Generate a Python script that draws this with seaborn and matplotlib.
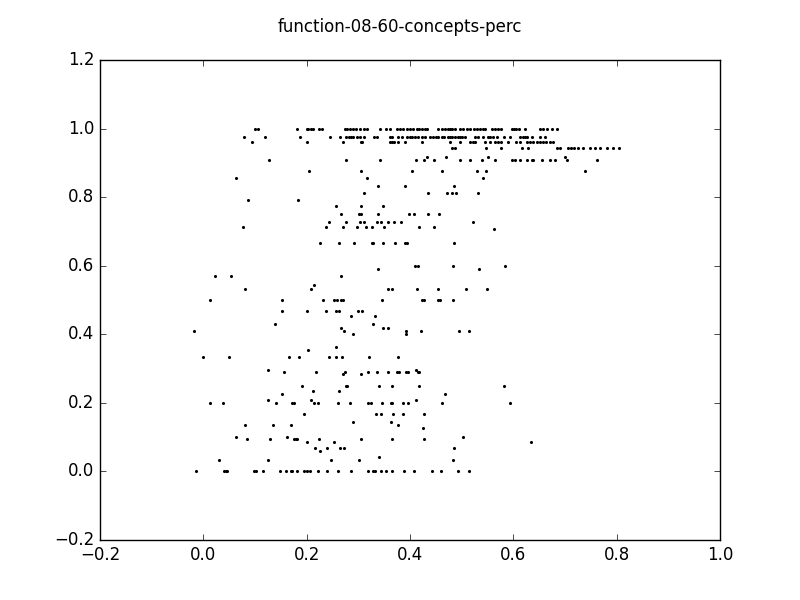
import pandas as pd
import numpy as np
from matplotlib import pyplot as plt
import seaborn as sns

# values, grouped by the y level they sit on
levels = [1.0, 0.975, 0.96, 0.944, 0.918, 0.909, 0.875, 0.857, 0.833, 0.813,
          0.792, 0.775, 0.75, 0.727, 0.714, 0.706, 0.667, 0.6, 0.589, 0.571,
          0.545, 0.533, 0.5, 0.467, 0.453, 0.43, 0.419, 0.41, 0.4, 0.363,
          0.355, 0.333, 0.296, 0.289, 0.283, 0.25, 0.236, 0.226, 0.208, 0.2,
          0.167, 0.143, 0.134, 0.126, 0.1, 0.096, 0.085, 0.067, 0.06, 0.041,
          0.033, 0.0]

xs_by_level = [
    [0.1, 0.105, 0.182, 0.2, 0.203, 0.208, 0.213, 0.223, 0.229, 0.274, 0.279, 0.284,
     0.289, 0.296, 0.303, 0.311, 0.317, 0.342, 0.354, 0.361, 0.374, 0.381, 0.387,
     0.394, 0.4, 0.406, 0.413, 0.418, 0.423, 0.429, 0.432, 0.455, 0.461, 0.468,
     0.474, 0.477, 0.482, 0.488, 0.497, 0.503, 0.51, 0.516, 0.523, 0.529, 0.535,
     0.542, 0.545, 0.558, 0.565, 0.571, 0.577, 0.597, 0.602, 0.606, 0.611, 0.623,
     0.652, 0.658, 0.665, 0.674, 0.684],
    [0.078, 0.119, 0.187, 0.245, 0.264, 0.277, 0.281, 0.286, 0.29, 0.297, 0.303,
     0.311, 0.331, 0.337, 0.361, 0.365, 0.376, 0.384, 0.394, 0.4, 0.404, 0.41,
     0.416, 0.423, 0.429, 0.439, 0.445, 0.45, 0.455, 0.461, 0.466, 0.473, 0.477,
     0.482, 0.487, 0.492, 0.497, 0.5, 0.506, 0.526, 0.532, 0.542, 0.55, 0.555,
     0.561, 0.568, 0.581, 0.594, 0.613, 0.618, 0.623, 0.627, 0.636, 0.652, 0.661],
    [0.094, 0.2, 0.271, 0.305, 0.308, 0.361, 0.365, 0.369, 0.376, 0.39, 0.423,
     0.477, 0.497, 0.516, 0.521, 0.526, 0.545, 0.555, 0.565, 0.571, 0.577, 0.59,
     0.606, 0.613, 0.626, 0.632, 0.639, 0.645, 0.652, 0.658, 0.663, 0.671, 0.677],
    [0.481, 0.487, 0.547, 0.577, 0.616, 0.629, 0.684, 0.69, 0.706, 0.711, 0.718,
     0.726, 0.735, 0.748, 0.758, 0.768, 0.781, 0.792, 0.805],
    [0.432, 0.469, 0.55, 0.7],
    [0.127, 0.276, 0.341, 0.411, 0.428, 0.447, 0.497, 0.516, 0.54, 0.565, 0.597,
     0.603, 0.613, 0.626, 0.636, 0.639, 0.655, 0.671, 0.681, 0.703, 0.761],
    [0.205, 0.306, 0.404, 0.462, 0.529, 0.548, 0.739],
    [0.063, 0.316, 0.541],
    [0.338, 0.39, 0.485],
    [0.31, 0.435, 0.471, 0.481, 0.489, 0.532],
    [0.087, 0.183],
    [0.257, 0.305, 0.348],
    [0.266, 0.301, 0.305, 0.338, 0.398, 0.408, 0.435, 0.456],
    [0.244, 0.276, 0.303, 0.311, 0.336, 0.344, 0.357, 0.369, 0.382, 0.522],
    [0.076, 0.237, 0.27, 0.298, 0.314, 0.327, 0.35, 0.418, 0.447],
    [0.563],
    [0.225, 0.263, 0.291, 0.327, 0.329, 0.348, 0.37, 0.39, 0.394, 0.486],
    [0.41, 0.415, 0.484, 0.584],
    [0.338, 0.534],
    [0.023, 0.054, 0.266],
    [0.215],
    [0.08, 0.209, 0.358, 0.365, 0.413, 0.455, 0.508, 0.549],
    [0.013, 0.152, 0.232, 0.253, 0.259, 0.266, 0.271, 0.345, 0.423, 0.428, 0.455,
     0.458, 0.483],
    [0.152, 0.2, 0.237, 0.256, 0.263, 0.299, 0.308],
    [0.286, 0.332],
    [0.138, 0.329],
    [0.266, 0.347, 0.357],
    [-0.019, 0.272, 0.392, 0.421, 0.494, 0.514],
    [0.289, 0.392],
    [0.257],
    [0.203],
    [0.0, 0.05, 0.166, 0.185, 0.244, 0.257, 0.269, 0.321, 0.377],
    [0.126, 0.412],
    [0.156, 0.218, 0.274, 0.319, 0.337, 0.358, 0.375, 0.379, 0.392, 0.396, 0.415,
     0.418],
    [0.271, 0.305],
    [0.19, 0.277, 0.279, 0.34, 0.366, 0.418, 0.582],
    [0.212, 0.263],
    [0.152, 0.468],
    [0.126, 0.209, 0.411],
    [0.013, 0.039, 0.141, 0.171, 0.176, 0.215, 0.221, 0.261, 0.284, 0.319, 0.324,
     0.346, 0.363, 0.365, 0.387, 0.397, 0.462, 0.594],
    [0.195, 0.334, 0.343, 0.368, 0.386, 0.428],
    [0.289, 0.363],
    [0.081, 0.135, 0.17, 0.376],
    [0.426],
    [0.063, 0.161, 0.503],
    [0.084, 0.129, 0.176, 0.179, 0.181, 0.223, 0.305, 0.366, 0.428],
    [0.201, 0.253, 0.635],
    [0.216, 0.239, 0.265, 0.273, 0.486],
    [0.226],
    [0.34],
    [0.031, 0.126, 0.248, 0.302, 0.483],
    [-0.014, 0.04, 0.043, 0.046, 0.098, 0.102, 0.116, 0.148, 0.16, 0.17, 0.172,
     0.182, 0.195, 0.201, 0.206, 0.221, 0.24, 0.261, 0.286, 0.318, 0.329, 0.332,
     0.344, 0.353, 0.366, 0.389, 0.407, 0.443, 0.46, 0.493, 0.515],
]

x_ticks = [-0.2, 0.0, 0.2, 0.4, 0.6, 0.8, 1.0]
y_ticks = [-0.2, 0.0, 0.2, 0.4, 0.6, 0.8, 1.0, 1.2]

rows = []
for lvl, xs in zip(levels, xs_by_level):
    for xv in xs:
        rows.append({"x": xv, "y": lvl})
df = pd.DataFrame(rows)

plt.style.use("classic")
plt.rcParams["figure.facecolor"] = "white"
plt.rcParams["savefig.facecolor"] = "white"

fig, ax = plt.subplots(figsize=(8, 6), dpi=100)
sns.scatterplot(data=df, x="x", y="y", ax=ax, color="black", marker="o",
                s=5, linewidth=0)
ax.set_xlim(-0.2, 1.0)
ax.set_ylim(-0.2, 1.2)
ax.set_xticks(x_ticks)
ax.set_yticks(y_ticks)
ax.set_xlabel("")
ax.set_ylabel("")
fig.suptitle("function-08-60-concepts-perc", fontsize=12, y=0.97)
fig.subplots_adjust(left=0.125, right=0.9, top=0.9, bottom=0.1)
fig.savefig("out.png", dpi=100)
